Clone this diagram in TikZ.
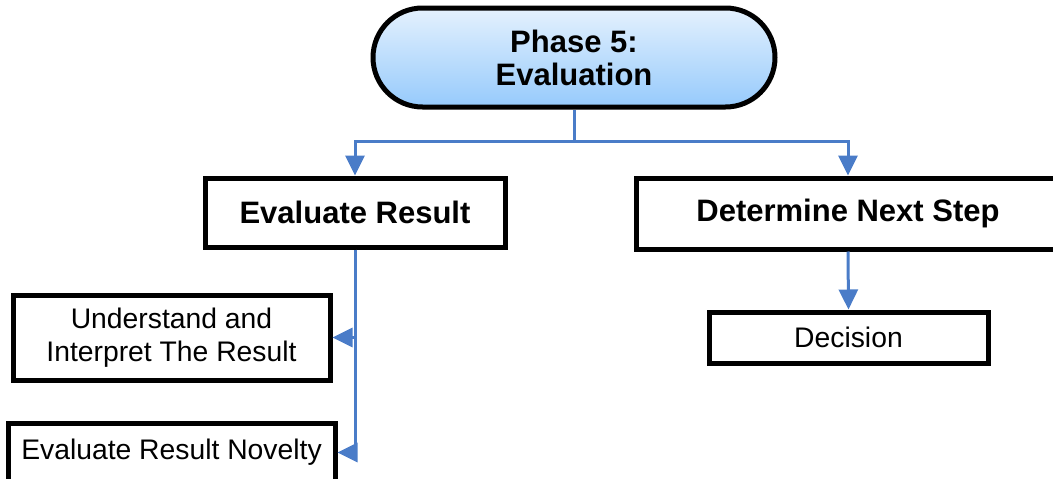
\documentclass[tikz,border=0pt]{standalone}
\usepackage{fontspec}
\setmainfont{Liberation Sans}
\usetikzlibrary{arrows.meta,shapes.misc}
\definecolor{conn}{HTML}{4A7CC8}
\definecolor{phaseA}{HTML}{E4F1FD}
\definecolor{phaseB}{HTML}{96CAFC}
\begin{document}
\begin{tikzpicture}[x=1pt,y=-1pt,
  boxbase/.style={draw=black,line width=5pt,fill=white,inner sep=0pt,align=center},
  headbox/.style={boxbase,font=\fontsize{31}{33}\selectfont\bfseries},
  subbox/.style={boxbase,font=\fontsize{28.3}{33}\selectfont},
  phasebox/.style={draw=black,line width=5pt,rounded rectangle,inner sep=0pt,align=center,
    font=\fontsize{31}{33}\selectfont\bfseries},
  conline/.style={draw=conn,line width=3pt},
  conarrow/.style={conline,-{Triangle[length=20pt,width=19pt]}}]
\useasboundingbox (0,0) rectangle (1053,479);
\clip (0,0) rectangle (1053,479);
\node[phasebox,minimum width=402pt,minimum height=99pt,
  top color=phaseA,bottom color=phaseB] (ph) at (574,57.5) {Phase 5:\\Evaluation};
\node[headbox,minimum width=300pt,minimum height=69pt] (er) at (355,212.5) {Evaluate Result};
\node[headbox,minimum width=424pt,minimum height=71pt] (dn) at (848,213.5) {Determine Next Step};
\node[subbox,minimum width=317pt,minimum height=85pt] (ui) at (171.5,337.5) {Understand and\\Interpret The Result};
\node[subbox,minimum width=327pt,minimum height=59pt] (nv) at (171.5,452.5) {Evaluate Result Novelty};
\node[subbox,minimum width=279pt,minimum height=51pt] (dc) at (848.5,337.5) {Decision};
\coordinate (split) at (574,141);
\draw[conline] (ph.south) -- (split);
\draw[conarrow] (split) -| (er.north);
\draw[conarrow] (split) -| (dn.north);
\draw[conarrow] (dn.south) -- (dc.north);
\draw[conarrow] (er.south) |- (ui.east);
\draw[conarrow] (er.south) |- (nv.east);
\end{tikzpicture}
\end{document}
